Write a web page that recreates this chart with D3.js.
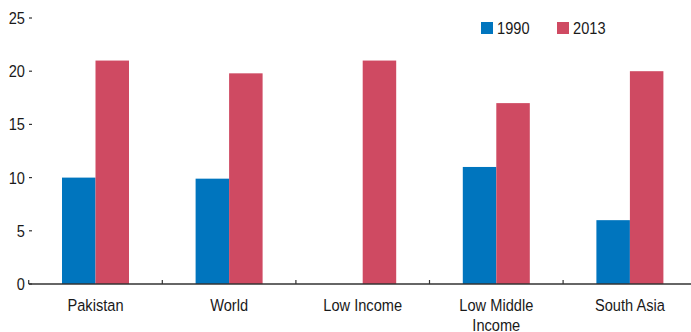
<!DOCTYPE html>
<html><head><meta charset="utf-8">
<script src="https://cdn.jsdelivr.net/npm/d3@7"></script>
<style>
body{margin:0;background:#fff;}
text{font-family:"Liberation Sans Narrow","Liberation Sans",Arial,sans-serif;font-size:17px;fill:#1a1a1a;}
</style></head>
<body>
<svg id="c" width="691" height="332"></svg>
<script>
const categories = ["Pakistan","World","Low Income","Low Middle Income","South Asia"];
const labelLines = [["Pakistan"],["World"],["Low Income"],["Low Middle","Income"],["South Asia"]];
const seriesNames = ["1990","2013"];
const values1990 = [10, 9.9, null, 11, 6];
const values2013 = [21, 19.8, 21, 17, 20];
const yTicks = [0,5,10,15,20,25];
const colors = ["#0075be","#cf4a62"];

const SX = 0.86;
const svg = d3.select("#c");
function label(g, x, y, str, anchor){
  return g.append("text").attr("transform", `translate(${x},${y}) scale(${SX},1)`)
    .attr("text-anchor", anchor || "start").text(str);
}

const x = d3.scaleBand().domain(categories).range([28.7, 696.7]);
const y = d3.scaleLinear().domain([0,25]).range([284, 18]);
const barW = 33.5;

const series = [values1990, values2013];
series.forEach((vals, si) => {
  svg.append("g").selectAll("rect")
    .data(categories.map((c,i)=>({c, v: vals[i]})).filter(d=>d.v!=null))
    .join("rect")
    .attr("x", d => x(d.c) + x.bandwidth()/2 + (si===0 ? -barW : 0))
    .attr("width", barW)
    .attr("y", d => y(d.v))
    .attr("height", d => y(0) - y(d.v))
    .attr("fill", colors[si]);
});

// y axis ticks/labels
const ya = svg.append("g");
yTicks.forEach(t => {
  ya.append("line").attr("x1", 29).attr("x2", 32).attr("y1", y(t)).attr("y2", y(t))
    .attr("stroke", "#333").attr("stroke-width", 1.2);
  label(ya, 25, y(t) + 6, String(t), "end");
});

// x axis
svg.append("line").attr("x1", x.range()[0]).attr("x2", 691).attr("y1", y(0)).attr("y2", y(0))
  .attr("stroke", "#333").attr("stroke-width", 1.5);
categories.forEach((c,i) => {
  const b = x(c);
  svg.append("line").attr("x1", b).attr("x2", b).attr("y1", y(0)).attr("y2", y(0)-4)
    .attr("stroke", "#333").attr("stroke-width", 1.2);
  labelLines[i].forEach((l, li) => {
    label(svg, b + x.bandwidth()/2, 311 + li*19.5, l, "middle");
  });
});

// legend
const lg = svg.append("g");
const legX = [481, 557];
seriesNames.forEach((s,i) => {
  lg.append("rect").attr("x", legX[i]).attr("y", 22).attr("width", 12).attr("height", 12).attr("fill", colors[i]);
  label(lg, legX[i] + 16, 34, s, "start");
});
</script>
</body></html>
